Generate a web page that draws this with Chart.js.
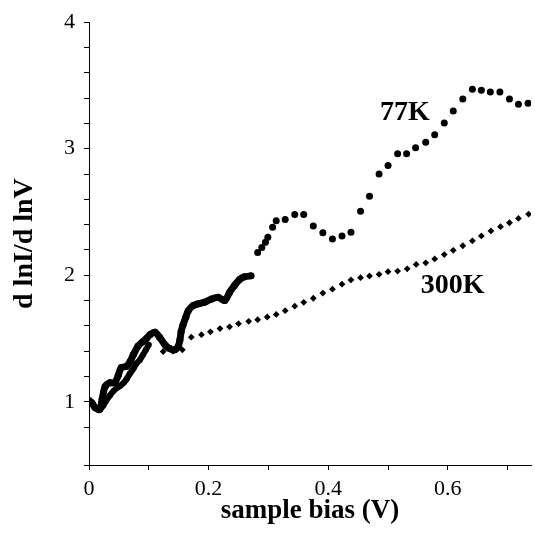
<!DOCTYPE html>
<html>
<head>
<meta charset="utf-8">
<script src="https://cdn.jsdelivr.net/npm/chart.js@4"></script>
<style>
  html, body { margin: 0; padding: 0; background: #ffffff; }
  #wrap { width: 535px; height: 535px; }
</style>
</head>
<body>
<div id="wrap"><canvas id="c" width="535" height="535"></canvas></div>
<script>
// ---- data ----
// 77K, dense sweep (upper branch)
const denseAX = [0.000,0.005,0.010,0.018,0.022,0.027,0.035,0.043,0.049,0.054,0.063,0.069,0.074,0.082,0.090,0.096,0.102,0.110,0.118,0.127,0.135,0.143,0.149,0.152,0.154,0.157,0.162,0.166,0.174,0.182,0.193,0.205,0.216,0.227,0.235,0.243,0.252,0.260,0.271];
const denseAY = [1.01,0.99,0.955,0.94,1.02,1.12,1.15,1.15,1.21,1.27,1.28,1.32,1.37,1.44,1.475,1.50,1.53,1.55,1.51,1.45,1.42,1.41,1.436,1.488,1.553,1.605,1.67,1.72,1.76,1.773,1.786,1.812,1.825,1.80,1.864,1.917,1.968,1.987,1.995];
// 77K, dense sweep (lower branch)
const denseBX = [0.010,0.018,0.024,0.029,0.035,0.041,0.047,0.052,0.058,0.063,0.068,0.074,0.079,0.085,0.090,0.095,0.100];
const denseBY = [0.955,0.94,0.97,1.01,1.05,1.085,1.11,1.125,1.15,1.18,1.22,1.26,1.30,1.33,1.37,1.41,1.45];
// 77K, sparse dots
const k77X = [0.282,0.289,0.295,0.299,0.307,0.313,0.328,0.344,0.359,0.375,0.391,0.407,0.423,0.438,0.454,0.469,0.485,0.500,0.516,0.531,0.546,0.563,0.578,0.594,0.609,0.625,0.641,0.656,0.671,0.687,0.703,0.718,0.734];
const k77Y = [2.18,2.22,2.26,2.30,2.38,2.43,2.44,2.48,2.48,2.39,2.335,2.287,2.31,2.34,2.505,2.625,2.80,2.867,2.961,2.961,3.008,3.052,3.111,3.203,3.299,3.392,3.47,3.462,3.449,3.449,3.392,3.351,3.359];
// 300K diamonds
const k300X = [0.124,0.140,0.156,0.171,0.188,0.203,0.219,0.235,0.250,0.267,0.282,0.298,0.313,0.328,0.344,0.359,0.375,0.391,0.407,0.423,0.438,0.454,0.469,0.485,0.500,0.516,0.532,0.547,0.563,0.578,0.594,0.609,0.625,0.641,0.656,0.672,0.688,0.703,0.718,0.735];
const k300Y = [1.397,1.40,1.41,1.51,1.53,1.553,1.578,1.592,1.617,1.636,1.649,1.67,1.69,1.72,1.755,1.786,1.818,1.859,1.89,1.929,1.963,1.981,1.994,2.007,2.028,2.033,2.051,2.085,2.098,2.129,2.163,2.197,2.233,2.272,2.311,2.35,2.384,2.415,2.449,2.483];
// curve labels (text, x, y in data units)
const labelTexts = ['77K', '300K'];
const labelX = [0.528, 0.608];
const labelY = [3.283, 1.919];
// axis texts
const xTitle = 'sample bias (V)';
const yTitle = 'd lnI/d lnV';

function pts(xs, ys) { return xs.map((x, i) => ({ x: x, y: ys[i] })); }

const SERIF = '"Liberation Serif", "Times New Roman", serif';

const labelPlugin = {
  id: 'curveLabels',
  afterDatasetsDraw(chart) {
    const ctx = chart.ctx;
    const xs = chart.scales.x, ys = chart.scales.y;
    ctx.save();
    ctx.fillStyle = '#000';
    ctx.font = 'bold 28px ' + SERIF;
    ctx.textAlign = 'center';
    ctx.textBaseline = 'middle';
    labelTexts.forEach((t, i) => {
      ctx.fillText(t, xs.getPixelForValue(labelX[i]), ys.getPixelForValue(labelY[i]));
    });
    ctx.restore();
  }
};

new Chart(document.getElementById('c'), {
  type: 'scatter',
  data: {
    datasets: [
      { label: '77K a', data: pts(denseAX, denseAY), showLine: true, borderColor: '#000', backgroundColor: '#000', borderWidth: 7, tension: 0.3, pointRadius: 3.5, pointBorderWidth: 0 },
      { label: '77K b', data: pts(denseBX, denseBY), showLine: true, borderColor: '#000', backgroundColor: '#000', borderWidth: 6, tension: 0.3, pointRadius: 3, pointBorderWidth: 0 },
      { label: '77K', data: pts(k77X, k77Y), showLine: false, backgroundColor: '#000', borderColor: '#000', pointRadius: 3.5, pointBorderWidth: 0 },
      { label: '300K', data: pts(k300X, k300Y), showLine: false, pointStyle: 'rectRot', backgroundColor: '#000', borderColor: '#000', pointRadius: 3.4, pointBorderWidth: 0 }
    ]
  },
  options: {
    responsive: false,
    animation: false,
    devicePixelRatio: 1,
    layout: { padding: { top: 16, right: 0, left: 0, bottom: 0 } },
    plugins: { legend: { display: false }, tooltip: { enabled: false } },
    scales: {
      x: {
        type: 'linear', min: 0, max: 0.739,
        afterFit(s) { s.height = 70; },
        border: { display: true, color: '#000', width: 1 },
        grid: { drawOnChartArea: false, drawTicks: true, tickLength: 5, color: '#000' },
        ticks: {
          stepSize: 0.1, includeBounds: false, autoSkip: false, maxRotation: 0, padding: 6,
          color: '#000', font: { family: SERIF, size: 22 },
          callback(v) {
            const k = Math.round(v * 10);
            if (Math.abs(v * 10 - k) > 1e-6) return '';
            if (k === 0) return '0';
            return (k % 2 === 0) ? (k / 10).toFixed(1) : '';
          }
        },
        title: { display: true, text: xTitle, color: '#000', font: { family: SERIF, size: 27, weight: 'bold' }, padding: { top: 0, bottom: 8 } }
      },
      y: {
        type: 'linear', min: 0.5, max: 4,
        afterFit(s) { s.width = 89; },
        border: { display: true, color: '#000', width: 1 },
        grid: { drawOnChartArea: false, drawTicks: true, tickLength: 5, color: '#000' },
        ticks: {
          stepSize: 0.2, autoSkip: false, padding: 9,
          color: '#000', font: { family: SERIF, size: 22 },
          callback(v) {
            return Math.abs(v - Math.round(v)) < 1e-6 ? String(Math.round(v)) : '';
          }
        },
        title: { display: true, text: yTitle, color: '#000', font: { family: SERIF, size: 28, weight: 'bold' }, padding: { top: 8, bottom: 0 } }
      }
    }
  },
  plugins: [labelPlugin]
});
</script>
</body>
</html>
